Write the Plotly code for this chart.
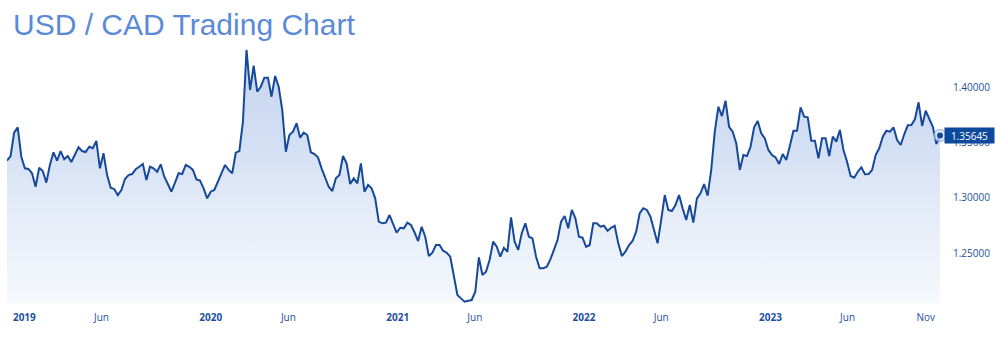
import pandas as pd
import plotly.graph_objects as go

# Weekly USD/CAD closing values
values = [
    1.3336, 1.3378, 1.3589, 1.3638, 1.3372, 1.3267, 1.3261, 1.3222, 1.3100, 1.3272,
    1.3242, 1.3137, 1.3297, 1.3412, 1.3336, 1.3423, 1.3348, 1.3378, 1.3324, 1.3394,
    1.3457, 1.3423, 1.3414, 1.3462, 1.3448, 1.3514, 1.3267, 1.3403, 1.3206, 1.3091,
    1.3080, 1.3025, 1.3071, 1.3170, 1.3206, 1.3215, 1.3258, 1.3281, 1.3306, 1.3161,
    1.3281, 1.3267, 1.3236, 1.3303, 1.3191, 1.3125, 1.3055, 1.3137, 1.3222, 1.3215,
    1.3297, 1.3281, 1.3252, 1.3167, 1.3155, 1.3086, 1.2995, 1.3055, 1.3071, 1.3146,
    1.3227, 1.3297, 1.3252, 1.3222, 1.3408, 1.3423, 1.3689, 1.4338, 1.3976, 1.4195,
    1.3960, 1.4005, 1.4087, 1.4087, 1.3915, 1.4102, 1.4005, 1.3795, 1.3417, 1.3568,
    1.3598, 1.3674, 1.3544, 1.3589, 1.3568, 1.3412, 1.3396, 1.3366, 1.3267, 1.3176,
    1.3100, 1.3061, 1.3176, 1.3206, 1.3378, 1.3312, 1.3125, 1.3176, 1.3131, 1.3312,
    1.3055, 1.3116, 1.3086, 1.2995, 1.2784, 1.2769, 1.2775, 1.2844, 1.2754, 1.2684,
    1.2729, 1.2724, 1.2775, 1.2754, 1.2688, 1.2609, 1.2738, 1.2648, 1.2473, 1.2503,
    1.2573, 1.2573, 1.2521, 1.2503, 1.2467, 1.2286, 1.2120, 1.2090, 1.2060, 1.2069,
    1.2075, 1.2150, 1.2461, 1.2301, 1.2331, 1.2437, 1.2603, 1.2557, 1.2467, 1.2548,
    1.2512, 1.2823, 1.2603, 1.2528, 1.2679, 1.2769, 1.2648, 1.2633, 1.2467, 1.2362,
    1.2362, 1.2376, 1.2443, 1.2528, 1.2618, 1.2784, 1.2835, 1.2724, 1.2890, 1.2814,
    1.2648, 1.2639, 1.2557, 1.2573, 1.2769, 1.2769, 1.2738, 1.2747, 1.2702, 1.2729,
    1.2747, 1.2588, 1.2473, 1.2512, 1.2573, 1.2609, 1.2693, 1.2860, 1.2905, 1.2890,
    1.2829, 1.2709, 1.2588, 1.2799, 1.3025, 1.2890, 1.2880, 1.2935, 1.3025, 1.2905,
    1.2799, 1.2935, 1.2775, 1.2995, 1.3041, 1.3125, 1.3019, 1.3252, 1.3598, 1.3824,
    1.3740, 1.3879, 1.3643, 1.3598, 1.3493, 1.3252, 1.3387, 1.3378, 1.3462, 1.3638,
    1.3695, 1.3584, 1.3538, 1.3433, 1.3387, 1.3366, 1.3306, 1.3396, 1.3342, 1.3469,
    1.3607, 1.3607, 1.3819, 1.3734, 1.3728, 1.3517, 1.3517, 1.3357, 1.3538, 1.3538,
    1.3378, 1.3553, 1.3508, 1.3614, 1.3433, 1.3327, 1.3197, 1.3182, 1.3236, 1.3276,
    1.3213, 1.3215, 1.3252, 1.3387, 1.3448, 1.3553, 1.3607, 1.3598, 1.3638, 1.3523,
    1.3478, 1.3575, 1.3656, 1.3659, 1.3713, 1.3864, 1.3650, 1.3788, 1.3719, 1.3643,
    1.3487, 1.35645,
]
dates = pd.date_range("2018-11-28", periods=len(values), freq="7D")

last_value = values[-1]
last_label = "1.35645"

tick_dates = ["2019-01-01", "2019-06-01", "2020-01-01", "2020-06-01", "2021-01-01",
              "2021-06-01", "2022-01-01", "2022-06-01", "2023-01-01", "2023-06-01",
              "2023-11-01"]
tick_labels = ["<b>2019</b>", "Jun", "<b>2020</b>", "Jun", "<b>2021</b>", "Jun",
               "<b>2022</b>", "Jun", "<b>2023</b>", "Jun", "Nov"]
y_ticks = [1.25, 1.30, 1.35, 1.40]
y_tick_labels = ["1.25000", "1.30000", "1.35000", "1.40000"]

y_min, y_max = 1.2048, 1.4428
line_color = "#17499a"
text_color = "#1c4f9e"

fig = go.Figure()
fig.add_trace(go.Scatter(
    x=dates, y=values, mode="lines",
    line=dict(color=line_color, width=2),
    fill="tozeroy",
    fillgradient=dict(
        type="vertical",
        start=y_min, stop=y_max,
        colorscale=[[0, "rgb(246,249,253)"], [0.35, "rgb(228,236,248)"],
                    [0.6, "rgb(211,223,243)"], [1, "rgb(196,211,239)"]],
    ),
    hoverinfo="skip", showlegend=False,
))
# last-point marker with halo
fig.add_trace(go.Scatter(
    x=[dates[-1]], y=[last_value], mode="markers",
    marker=dict(size=12, color="rgba(205,220,243,0.7)",
                line=dict(color="rgba(120,160,220,0.8)", width=1)),
    hoverinfo="skip", showlegend=False, cliponaxis=False,
))
fig.add_trace(go.Scatter(
    x=[dates[-1]], y=[last_value], mode="markers",
    marker=dict(size=6, color=line_color),
    hoverinfo="skip", showlegend=False, cliponaxis=False,
))

fig.add_annotation(
    x=1, xref="paper", xanchor="left", xshift=4,
    y=last_value, yref="y", yanchor="middle",
    text=last_label, showarrow=False,
    font=dict(family="Open Sans, Arial", size=10, color="white"),
    bgcolor="#0d4a9c", borderpad=2, width=45, height=11,
)

fig.update_layout(
    width=1000, height=339,
    margin=dict(l=7, r=60, t=40, b=36),
    paper_bgcolor="white", plot_bgcolor="white",
    title=dict(
        text="USD / CAD Trading Chart",
        x=0.013, xanchor="left", xref="container",
        y=1 - 24 / 339, yanchor="middle", yref="container",
        font=dict(family="Liberation Sans, Arial", size=30, color="#5a8ad8"),
    ),
    xaxis=dict(
        range=[dates[0], dates[-1]],
        tickvals=tick_dates, ticktext=tick_labels,
        showgrid=False, zeroline=False, showline=False, ticks="",
        tickfont=dict(family="Open Sans, Arial", size=10, color=text_color),
        ticklabelstandoff=7,
    ),
    yaxis=dict(
        range=[y_min, y_max], side="right",
        tickvals=y_ticks, ticktext=y_tick_labels,
        showgrid=False, zeroline=False, showline=False, ticks="",
        tickfont=dict(family="Open Sans, Arial", size=10, color=text_color),
        ticklabelstandoff=12,
    ),
)

fig.write_html("out.html")
